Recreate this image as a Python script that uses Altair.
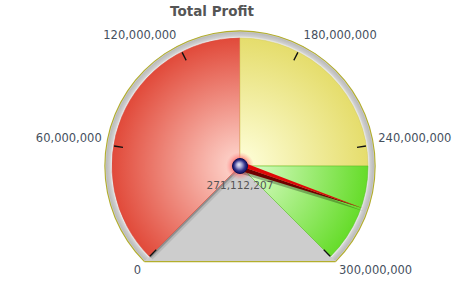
import math
import numpy as np
import pandas as pd
import altair as alt

# ---------------- data ----------------
TITLE = "Total Profit"
GAUGE_MIN = 0
GAUGE_MAX = 300_000_000
BAND_NAMES = ["red", "yellow", "green"]
BAND_STARTS = [0, 150_000_000, 250_000_000]
BAND_ENDS = [150_000_000, 250_000_000, 300_000_000]
TICK_VALUES = [0, 60_000_000, 120_000_000, 180_000_000, 240_000_000, 300_000_000]
TICK_LABELS = ["0", "60,000,000", "120,000,000", "180,000,000", "240,000,000", "300,000,000"]
NEEDLE_VALUE = 271_112_207

# ---------------- style / geometry ----------------
CX, CY = 240, 166
R_FACE = 128
R_RING = 134
R_RIM = 135.2
R_LABEL = 140
R_NEEDLE = 130
A0, A1 = 225.0, 495.0  # degrees clockwise from north
FONT = "DejaVu Sans"
LABEL_COLOR = "#46505e"
RIM_COLOR = "#b3ae2c"
BEZEL_COLOR = "#cdcdcd"
BAND_STOPS = {
    "red": ([(0, "#ffdad2"), (1, "#e14a3a")], "#d9493a"),
    "yellow": ([(0, "#ffffdc"), (1, "#e5dd6c")], "#d6cf62"),
    "green": ([(0, "#e2ffd2"), (1, "#66dc2a")], "#5cc428"),
}


def ang(v):
    return A0 + (v - GAUGE_MIN) / (GAUGE_MAX - GAUGE_MIN) * (A1 - A0)


def radial(a0, a1, r_out, r_in, stops):
    t = np.radians(np.linspace(a0, a1, 2001))
    xs = [r_out * np.sin(t)]
    ys = [-r_out * np.cos(t)]
    if r_in > 0:
        xs.append(r_in * np.sin(t))
        ys.append(-r_in * np.cos(t))
    else:
        xs.append(np.array([0.0]))
        ys.append(np.array([0.0]))
    xs = np.concatenate(xs)
    ys = np.concatenate(ys)
    x0, x1, y0, y1 = xs.min(), xs.max(), ys.min(), ys.max()
    s = max(x1 - x0, y1 - y0)
    left = (x0 + x1) / 2 - s / 2
    top = (y0 + y1) / 2 - s / 2
    cx, cy = -left / s, -top / s
    return {
        "gradient": "radial",
        "x1": float(cx), "y1": float(cy), "r1": 0,
        "x2": float(cx), "y2": float(cy), "r2": float(r_out / s),
        "stops": [{"offset": float(o), "color": c} for o, c in stops],
    }


theta_scale = alt.Scale(domain=[GAUGE_MIN, GAUGE_MAX],
                        range=[math.radians(A0), math.radians(A1)])
angle_scale = alt.Scale(domain=[GAUGE_MIN, GAUGE_MAX], range=[0, A1 - A0])

bands_df = pd.DataFrame({"band": BAND_NAMES, "start": BAND_STARTS, "end": BAND_ENDS})
frame_df = pd.DataFrame({"start": [GAUGE_MIN], "end": [GAUGE_MAX]})
ticks_df = pd.DataFrame({"v": TICK_VALUES, "label": TICK_LABELS})
needle_df = pd.DataFrame({"v": [NEEDLE_VALUE]})
title_df = pd.DataFrame({"t": [TITLE]})


def arc_layer(df, dx=0, dy=0, **mark):
    return alt.Chart(df).mark_arc(**mark).encode(
        theta=alt.Theta("start:Q", scale=theta_scale, stack=None),
        theta2="end:Q",
        x=alt.value(CX + dx), y=alt.value(CY + dy),
    )


def sym_layer(df, shape, size, dx=0, dy=0, rotate=True, **mark):
    enc = dict(x=alt.value(CX + dx), y=alt.value(CY + dy))
    if rotate:
        enc["angle"] = alt.Angle("v:Q", scale=angle_scale)
    return alt.Chart(df).mark_point(shape=shape, size=size, opacity=1, **mark).encode(**enc)


S = math.sqrt(0.5)
layers = []

# bezel body
layers.append(arc_layer(frame_df, radius=R_RIM, fill=BEZEL_COLOR))
wedge_path = f"M 0 0 L {-S:.5f} {S:.5f} L {S:.5f} {S:.5f} Z"
layers.append(sym_layer(needle_df, wedge_path, (2 * R_RIM) ** 2, rotate=False,
                        filled=True, fill=BEZEL_COLOR, strokeOpacity=0))
# shadows of the face
layers.append(arc_layer(frame_df, dx=3, dy=3, radius=R_FACE, fill="#000000", fillOpacity=0.10))
layers.append(arc_layer(frame_df, dx=1.5, dy=1.5, radius=R_FACE, fill="#000000", fillOpacity=0.22))
# ring
ring_fill = radial(A0, A1, R_RING, R_FACE,
                   [(R_FACE / R_RING, "#f2f2f2"), ((R_FACE + 2) / R_RING, "#d0d0d0"),
                    (1, "#b9b9b9")])
layers.append(arc_layer(frame_df, radius=R_RING, radius2=R_FACE - 0.5, fill=ring_fill))
layers.append(arc_layer(frame_df, radius=R_RIM + 0.5, radius2=R_RIM - 0.6, fill=RIM_COLOR))
chord_path = f"M {-S:.5f} {S:.5f} L {S:.5f} {S:.5f}"
layers.append(sym_layer(needle_df, chord_path, (2 * R_RIM) ** 2, rotate=False,
                        filled=False, stroke=RIM_COLOR, strokeWidth=1.2))

# colour bands
for name, st, en in zip(BAND_NAMES, BAND_STARTS, BAND_ENDS):
    stops, edge = BAND_STOPS[name]
    fill = radial(ang(st), ang(en), R_FACE, 0, stops)
    layers.append(
        arc_layer(bands_df, radius=R_FACE, fill=fill, stroke=edge, strokeWidth=0.6)
        .transform_filter(alt.datum.band == name)
    )

# tick marks
TICK_HALF = 0.35e6
layers.append(
    alt.Chart(ticks_df)
    .transform_calculate(t0=f"datum.v - {TICK_HALF}", t1=f"datum.v + {TICK_HALF}")
    .mark_arc(radius=127.5, radius2=118.5, fill="#111111")
    .encode(theta=alt.Theta("t0:Q", scale=theta_scale, stack=None), theta2="t1:Q",
            x=alt.value(CX), y=alt.value(CY))
)

# tick labels
span = GAUGE_MAX - GAUGE_MIN
q_w = GAUGE_MIN + span / 6
q_n = GAUGE_MIN + span / 2
q_e = GAUGE_MIN + span * 5 / 6
groups = [
    (f"datum.v < {q_w}", "right", "top"),
    (f"datum.v >= {q_w} && datum.v < {q_n}", "right", "bottom"),
    (f"datum.v >= {q_n} && datum.v <= {q_e}", "left", "bottom"),
    (f"datum.v > {q_e}", "left", "top"),
]
for expr, al, bl in groups:
    layers.append(
        alt.Chart(ticks_df).transform_filter(expr)
        .mark_text(align=al, baseline=bl, radius=R_LABEL, font=FONT, fontSize=11.5,
                   color=LABEL_COLOR)
        .encode(theta=alt.Theta("v:Q", scale=theta_scale, stack=None), text="label:N",
                x=alt.value(CX), y=alt.value(CY))
    )

# pivot halo
halo_fill = {"gradient": "radial", "x1": 0.5, "y1": 0.5, "r1": 0, "x2": 0.5, "y2": 0.5, "r2": 0.5,
             "stops": [{"offset": 0, "color": "rgba(255,70,70,0.9)"},
                       {"offset": 0.55, "color": "rgba(255,90,90,0.65)"},
                       {"offset": 1, "color": "rgba(255,140,140,0)"}]}
layers.append(sym_layer(needle_df, "circle", 28 ** 2, rotate=False, filled=True,
                        fill=halo_fill, strokeOpacity=0))

# needle
W = 4.5 / R_NEEDLE
tip = f"{-S:.5f} {S:.5f}"
full_path = f"M {W*S:.5f} {W*S:.5f} L {tip} L {-W*S:.5f} {-W*S:.5f} Z"
upper_path = f"M 0 0 L {tip} L {W*S:.5f} {W*S:.5f} Z"
lower_path = f"M 0 0 L {tip} L {-W*S:.5f} {-W*S:.5f} Z"
nsize = (2 * R_NEEDLE) ** 2
layers.append(sym_layer(needle_df, full_path, nsize, dx=1, dy=3, filled=True,
                        fill="#000000", fillOpacity=0.28, strokeOpacity=0))
layers.append(sym_layer(needle_df, lower_path, nsize, filled=True, fill="#6e0000",
                        strokeOpacity=0))
layers.append(sym_layer(needle_df, upper_path, nsize, filled=True, fill="#e00808",
                        strokeOpacity=0))

# pivot
pivot_fill = {"gradient": "radial", "x1": 0.42, "y1": 0.4, "r1": 0, "x2": 0.5, "y2": 0.5, "r2": 0.5,
              "stops": [{"offset": 0, "color": "#f4f4fc"},
                        {"offset": 0.35, "color": "#a8a8d4"},
                        {"offset": 0.75, "color": "#2c2c86"},
                        {"offset": 1, "color": "#171766"}]}
layers.append(sym_layer(needle_df, "circle", 15 ** 2, rotate=False, filled=True,
                        fill=pivot_fill, stroke="#0e0e52", strokeWidth=1))

# value label
layers.append(
    alt.Chart(needle_df).mark_text(font=FONT, fontSize=10.5, color="#555555", dy=20,
                                   baseline="middle", align="center")
    .encode(text=alt.Text("v:Q", format=",d"), x=alt.value(CX), y=alt.value(CY))
)

# title
layers.append(
    alt.Chart(title_df).mark_text(font=FONT, fontSize=13.5, fontWeight="bold",
                                  color="#555555", baseline="middle", align="center")
    .encode(text="t:N", x=alt.value(212), y=alt.value(12))
)

chart = (
    alt.layer(*layers)
    .properties(width=474, height=292, padding=0, autosize=alt.AutoSizeParams(type="none"))
    .configure_view(strokeWidth=0)
)
chart.save("out.html", embed_options={"renderer": "svg", "actions": False})
